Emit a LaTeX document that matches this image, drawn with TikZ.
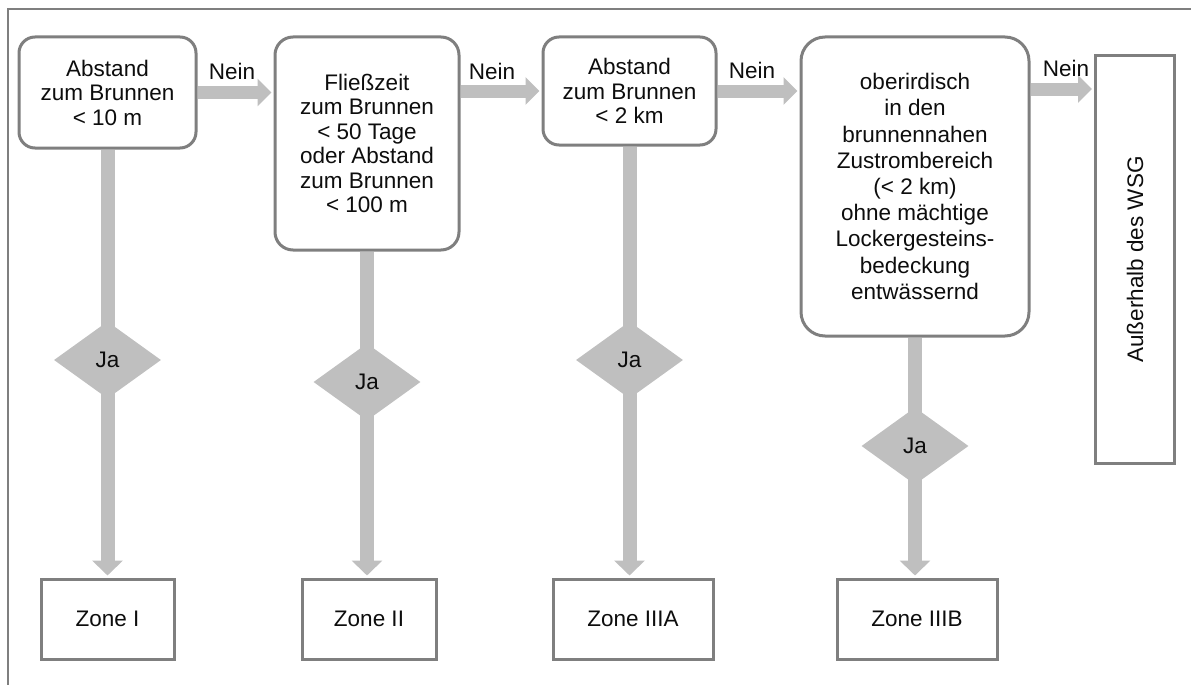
\documentclass[tikz,border=0pt]{standalone}
\usepackage{fontspec}
\setmainfont{Liberation Sans}
\usetikzlibrary{arrows.meta,shapes.geometric,backgrounds}
\definecolor{bordergray}{HTML}{7F7F7F}
\definecolor{flowgray}{HTML}{BFBFBF}
\definecolor{txt}{HTML}{0D0D0D}
\begin{document}
\begin{tikzpicture}[x=1pt,y=-1pt,
  txtfont/.style={font=\fontsize{22.5}{24.5}\selectfont, text=txt},
  qbox/.style={draw=bordergray,line width=3pt,fill=white,rounded corners=16pt,align=center,inner sep=0pt,txtfont},
  zbox/.style={draw=bordergray,line width=3pt,fill=white,inner sep=0pt,txtfont},
  ja/.style={diamond,fill=flowgray,inner sep=0pt,minimum width=107pt,minimum height=77pt,txtfont},
  nein/.style={inner sep=0pt,txtfont},
  hflow/.style={draw=flowgray,line width=13pt,-{Triangle[width=27pt,length=14pt]},shorten >=2pt},
  vflow/.style={draw=flowgray,line width=14pt,-{Triangle[width=30pt,length=15pt]},shorten >=2pt}]
\useasboundingbox (0,0) rectangle (1191,685);
% frame
\draw[bordergray,line width=2pt] (8,690) -- (8,9.5) -- (1195,9.5);
% question boxes
\node[qbox,minimum width=177pt,minimum height=111pt] (q1) at (107.5,92.5) {Abstand\\zum Brunnen\\< 10 m};
\node[qbox,rounded corners=18pt,minimum width=184pt,minimum height=213pt] (q2) at (367,143.5) {Fließzeit\\zum Brunnen\\< 50 Tage\\oder Abstand\\zum Brunnen\\< 100 m};
\node[qbox,minimum width=173pt,minimum height=108pt] (q3) at (629.5,91) {Abstand\\zum Brunnen\\< 2 km};
\node[qbox,rounded corners=24pt,minimum width=228pt,minimum height=299pt,font=\fontsize{22.5}{26.2}\selectfont] (q4) at (915,186.5) {oberirdisch\\in den\\brunnennahen\\Zustrombereich\\(< 2 km)\\ohne mächtige\\Lockergesteins-\\bedeckung\\entwässernd};
\node[zbox,rotate=90,minimum width=407pt,minimum height=79pt] (wsg) at (1135,259.5) {Außerhalb des WSG};
% zone boxes
\node[zbox,minimum width=133pt,minimum height=80pt] (z1) at (107.5,619) {Zone I};
\node[zbox,minimum width=134pt,minimum height=80pt] (z2) at (369,619) {Zone II};
\node[zbox,minimum width=160pt,minimum height=80pt] (z3) at (633,619) {Zone IIIA};
\node[zbox,minimum width=160pt,minimum height=80pt] (z4) at (917,619) {Zone IIIB};
% diamonds
\node[ja] (d1) at (107.5,360) {Ja};
\node[ja] (d2) at (367,382) {Ja};
\node[ja] (d3) at (629.5,360) {Ja};
\node[ja] (d4) at (915,446) {Ja};
% Nein labels
\node[nein] (n1) at (232,71) {Nein};
\node[nein] (n2) at (492,71) {Nein};
\node[nein] (n3) at (752,70) {Nein};
\node[nein] (n4) at (1066,68) {Nein};
\coordinate (y4) at (0,89);
\begin{scope}[on background layer]
\draw[hflow] (q1.east) -- (q1.east -| q2.west);
\draw[hflow] (q2.east |- q3.east) -- (q3.west);
\draw[hflow] (q3.east) -- (q3.east -| q4.west);
\draw[hflow] (q4.east |- y4) -- (wsg.north |- y4);
\draw[vflow] (q1.south) -- (z1.north);
\draw[vflow] (q2.south) -- (q2.south |- z2.north);
\draw[vflow] (q3.south) -- (q3.south |- z3.north);
\draw[vflow] (q4.south) -- (q4.south |- z4.north);
\end{scope}
\end{tikzpicture}
\end{document}
